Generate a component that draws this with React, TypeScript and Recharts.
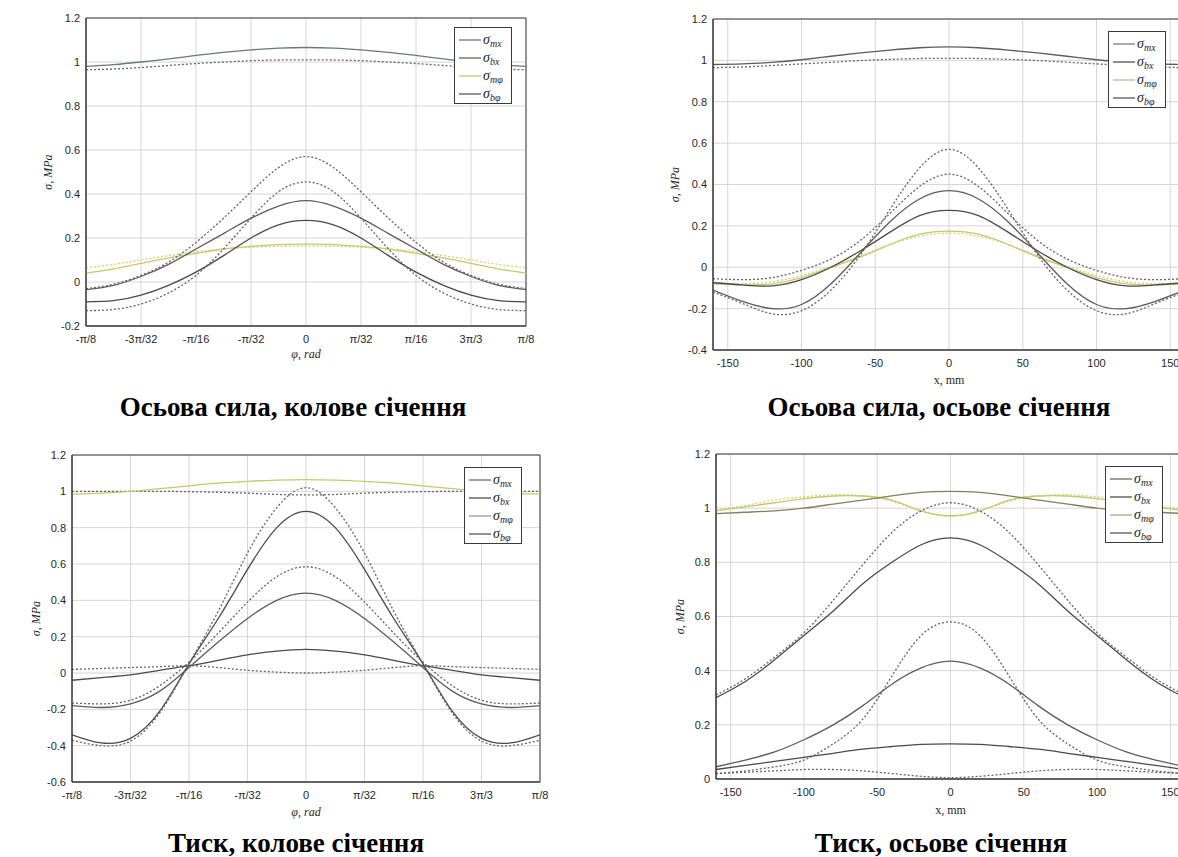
import React from 'react';
import { LineChart, Line, XAxis, YAxis, CartesianGrid, ReferenceArea, Legend, Label } from 'recharts';

// ---------- x categories ----------
const phiX = [-4, -3.5, -3, -2.5, -2, -1.5, -1, -0.5, 0, 0.5, 1, 1.5, 2, 2.5, 3, 3.5, 4]; // units of π/32
const phiTicks = [-4, -3, -2, -1, 0, 1, 2, 3, 4];
const phiTickLabels = ['-π/8', '-3π/32', '-π/16', '-π/32', '0', 'π/32', 'π/16', '3π/3', 'π/8'];
const mmX = [-160, -140, -120, -100, -80, -60, -40, -20, 0, 20, 40, 60, 80, 100, 120, 140, 160];
const mmTicks = [-150, -100, -50, 0, 50, 100, 150];

const yTicks1 = [-0.2, 0, 0.2, 0.4, 0.6, 0.8, 1, 1.2];
const yTicks2 = [-0.4, -0.2, 0, 0.2, 0.4, 0.6, 0.8, 1, 1.2];
const yTicks3 = [-0.6, -0.4, -0.2, 0, 0.2, 0.4, 0.6, 0.8, 1, 1.2];
const yTicks4 = [0, 0.2, 0.4, 0.6, 0.8, 1, 1.2];

const titles = ['Осьова сила, колове січення', 'Осьова сила, осьове січення', 'Тиск, колове січення', 'Тиск, осьове січення'];
const legendSubs = ['mx', 'bx', 'mφ', 'bφ'];

// ---------- panel 1: axial force, circumferential section ----------
const p1MxSolid = [0.98, 0.988, 1.0, 1.014, 1.03, 1.044, 1.055, 1.063, 1.066, 1.063, 1.055, 1.044, 1.03, 1.014, 1.0, 0.988, 0.98];
const p1MxDot = [0.965, 0.968, 0.975, 0.984, 0.993, 1.0, 1.006, 1.009, 1.01, 1.009, 1.006, 1.0, 0.993, 0.984, 0.975, 0.968, 0.965];
const p1BxSolid = [-0.035, -0.015, 0.025, 0.08, 0.15, 0.22, 0.29, 0.345, 0.37, 0.345, 0.29, 0.22, 0.15, 0.08, 0.025, -0.015, -0.035];
const p1BxDot = [-0.03, -0.01, 0.03, 0.09, 0.18, 0.29, 0.41, 0.52, 0.57, 0.52, 0.41, 0.29, 0.18, 0.09, 0.03, -0.01, -0.03];
const p1BphiSolid = [-0.09, -0.085, -0.06, -0.015, 0.045, 0.12, 0.2, 0.26, 0.28, 0.26, 0.2, 0.12, 0.045, -0.015, -0.06, -0.085, -0.09];
const p1BphiDot = [-0.13, -0.125, -0.1, -0.05, 0.03, 0.15, 0.29, 0.41, 0.455, 0.41, 0.29, 0.15, 0.03, -0.05, -0.1, -0.125, -0.13];
const p1MphiSolid = [0.04, 0.06, 0.085, 0.11, 0.13, 0.15, 0.162, 0.17, 0.172, 0.17, 0.162, 0.15, 0.13, 0.11, 0.085, 0.06, 0.04];
const p1MphiDot = [0.065, 0.08, 0.1, 0.12, 0.138, 0.15, 0.158, 0.162, 0.163, 0.162, 0.158, 0.15, 0.138, 0.12, 0.1, 0.08, 0.065];

// ---------- panel 2: axial force, axial section ----------
const p2MxSolid = [0.98, 0.983, 0.99, 1.003, 1.02, 1.036, 1.05, 1.061, 1.065, 1.061, 1.05, 1.036, 1.02, 1.003, 0.99, 0.983, 0.98];
const p2MxDot = [0.965, 0.968, 0.975, 0.983, 0.991, 0.999, 1.005, 1.009, 1.01, 1.009, 1.005, 0.999, 0.991, 0.983, 0.975, 0.968, 0.965];
const p2BxSolid = [-0.11, -0.165, -0.2, -0.18, -0.08, 0.07, 0.22, 0.33, 0.37, 0.33, 0.22, 0.07, -0.08, -0.18, -0.2, -0.165, -0.11];
const p2BxDot = [-0.12, -0.175, -0.225, -0.21, -0.11, 0.06, 0.28, 0.48, 0.57, 0.48, 0.28, 0.06, -0.11, -0.21, -0.225, -0.175, -0.12];
const p2BphiSolid = [-0.075, -0.085, -0.09, -0.06, 0.0, 0.08, 0.17, 0.25, 0.275, 0.25, 0.17, 0.08, 0.0, -0.06, -0.09, -0.085, -0.075];
const p2BphiDot = [-0.055, -0.06, -0.05, -0.015, 0.04, 0.13, 0.26, 0.39, 0.45, 0.39, 0.26, 0.13, 0.04, -0.015, -0.05, -0.06, -0.055];
const p2MphiSolid = [-0.08, -0.085, -0.08, -0.05, 0.0, 0.05, 0.11, 0.16, 0.175, 0.16, 0.11, 0.05, 0.0, -0.05, -0.08, -0.085, -0.08];
const p2MphiDot = [-0.075, -0.08, -0.07, -0.04, 0.005, 0.055, 0.11, 0.15, 0.165, 0.15, 0.11, 0.055, 0.005, -0.04, -0.07, -0.08, -0.075];

// ---------- panel 3: pressure, circumferential section ----------
const p3TopSolid = [0.985, 0.99, 1.0, 1.015, 1.03, 1.045, 1.055, 1.062, 1.065, 1.062, 1.055, 1.045, 1.03, 1.015, 1.0, 0.99, 0.985];
const p3TopDot = [1.0, 1.0, 1.0, 1.0, 0.998, 0.995, 0.99, 0.983, 0.98, 0.983, 0.99, 0.995, 0.998, 1.0, 1.0, 1.0, 1.0];
const p3BigSolid = [-0.34, -0.385, -0.36, -0.21, 0.05, 0.3, 0.57, 0.8, 0.89, 0.8, 0.57, 0.3, 0.05, -0.21, -0.36, -0.385, -0.34];
const p3BigDot = [-0.37, -0.4, -0.375, -0.22, 0.05, 0.34, 0.66, 0.91, 1.02, 0.91, 0.66, 0.34, 0.05, -0.22, -0.375, -0.4, -0.37];
const p3MedSolid = [-0.18, -0.19, -0.17, -0.1, 0.03, 0.17, 0.3, 0.4, 0.44, 0.4, 0.3, 0.17, 0.03, -0.1, -0.17, -0.19, -0.18];
const p3MedDot = [-0.165, -0.17, -0.15, -0.07, 0.06, 0.22, 0.39, 0.53, 0.585, 0.53, 0.39, 0.22, 0.06, -0.07, -0.15, -0.17, -0.165];
const p3SmallSolid = [-0.04, -0.025, -0.01, 0.015, 0.04, 0.07, 0.1, 0.12, 0.13, 0.12, 0.1, 0.07, 0.04, 0.015, -0.01, -0.025, -0.04];
const p3SmallDot = [0.02, 0.025, 0.03, 0.035, 0.04, 0.03, 0.015, 0.005, 0.0, 0.005, 0.015, 0.03, 0.04, 0.035, 0.03, 0.025, 0.02];

// ---------- panel 4: pressure, axial section ----------
const p4TopSolid = [0.98, 0.985, 0.99, 1.0, 1.015, 1.03, 1.045, 1.058, 1.062, 1.058, 1.045, 1.03, 1.015, 1.0, 0.99, 0.985, 0.98];
const p4YelSolid = [0.99, 1.005, 1.02, 1.035, 1.045, 1.045, 1.03, 0.99, 0.972, 0.99, 1.03, 1.045, 1.045, 1.035, 1.02, 1.005, 0.99];
const p4YelDot = [0.995, 1.01, 1.03, 1.042, 1.05, 1.045, 1.025, 0.99, 0.97, 0.99, 1.025, 1.045, 1.05, 1.042, 1.03, 1.01, 0.995];
const p4BigSolid = [0.3, 0.36, 0.44, 0.53, 0.62, 0.72, 0.8, 0.865, 0.89, 0.865, 0.8, 0.72, 0.62, 0.53, 0.44, 0.36, 0.3];
const p4BigDot = [0.31, 0.37, 0.45, 0.54, 0.66, 0.79, 0.91, 0.99, 1.02, 0.99, 0.91, 0.79, 0.66, 0.54, 0.45, 0.37, 0.31];
const p4MedSolid = [0.045, 0.07, 0.1, 0.145, 0.2, 0.27, 0.35, 0.41, 0.435, 0.41, 0.35, 0.27, 0.2, 0.145, 0.1, 0.07, 0.045];
const p4MedDot = [0.02, 0.03, 0.045, 0.07, 0.13, 0.22, 0.38, 0.53, 0.58, 0.53, 0.38, 0.22, 0.13, 0.07, 0.045, 0.03, 0.02];
const p4SmallSolid = [0.035, 0.05, 0.065, 0.08, 0.095, 0.11, 0.12, 0.128, 0.13, 0.128, 0.12, 0.11, 0.095, 0.08, 0.065, 0.05, 0.035];
const p4SmallDot = [0.02, 0.025, 0.03, 0.035, 0.035, 0.03, 0.02, 0.01, 0.005, 0.01, 0.02, 0.03, 0.035, 0.035, 0.03, 0.025, 0.02];

// ---------- styling ----------
const GRAY = '#5c5c5c';
const DARK = '#4a4a4a';
const DOT = '#646464';
const YEL = '#c4c968';
const YELD = '#cdd07a';
const BLUEGRAY = '#687880';
const OLIVE = '#7b835c';

type S = { key: string; values: number[]; color: string; dashed?: boolean };

const series1: S[] = [
  { key: 'mxS', values: p1MxSolid, color: BLUEGRAY },
  { key: 'mxD', values: p1MxDot, color: DOT, dashed: true },
  { key: 'mphiS', values: p1MphiSolid, color: YEL },
  { key: 'mphiD', values: p1MphiDot, color: YELD, dashed: true },
  { key: 'bxS', values: p1BxSolid, color: GRAY },
  { key: 'bxD', values: p1BxDot, color: DOT, dashed: true },
  { key: 'bphiS', values: p1BphiSolid, color: DARK },
  { key: 'bphiD', values: p1BphiDot, color: DOT, dashed: true },
];
const series2: S[] = [
  { key: 'mxS', values: p2MxSolid, color: GRAY },
  { key: 'mxD', values: p2MxDot, color: DOT, dashed: true },
  { key: 'mphiS', values: p2MphiSolid, color: YEL },
  { key: 'mphiD', values: p2MphiDot, color: YELD, dashed: true },
  { key: 'bphiS', values: p2BphiSolid, color: DARK },
  { key: 'bphiD', values: p2BphiDot, color: DOT, dashed: true },
  { key: 'bxS', values: p2BxSolid, color: GRAY },
  { key: 'bxD', values: p2BxDot, color: DOT, dashed: true },
];
const series3: S[] = [
  { key: 'topD', values: p3TopDot, color: DOT, dashed: true },
  { key: 'topS', values: p3TopSolid, color: YEL },
  { key: 'smallS', values: p3SmallSolid, color: DARK },
  { key: 'smallD', values: p3SmallDot, color: DOT, dashed: true },
  { key: 'medS', values: p3MedSolid, color: GRAY },
  { key: 'medD', values: p3MedDot, color: DOT, dashed: true },
  { key: 'bigS', values: p3BigSolid, color: DARK },
  { key: 'bigD', values: p3BigDot, color: DOT, dashed: true },
];
const series4: S[] = [
  { key: 'yelD', values: p4YelDot, color: YELD, dashed: true },
  { key: 'yelS', values: p4YelSolid, color: YEL },
  { key: 'topS', values: p4TopSolid, color: OLIVE },
  { key: 'smallS', values: p4SmallSolid, color: DARK },
  { key: 'smallD', values: p4SmallDot, color: DOT, dashed: true },
  { key: 'medS', values: p4MedSolid, color: GRAY },
  { key: 'medD', values: p4MedDot, color: DOT, dashed: true },
  { key: 'bigS', values: p4BigSolid, color: DARK },
  { key: 'bigD', values: p4BigDot, color: DOT, dashed: true },
];

const legendColors1 = [BLUEGRAY, '#5f6a56', YEL, '#4e5864'];
const legendColors2 = ['#7a7a7a', '#505050', '#b8b8a0', '#555555'];
const legendColors3 = ['#6a6a6a', '#505050', '#9a9a8a', '#555555'];
const legendColors4 = ['#6a6a6a', '#505050', '#a8ab80', '#555555'];

const TICK_FONT = { fill: '#262626', fontSize: 11, fontFamily: '"Liberation Sans", Arial, sans-serif' };

const LegendBox = ({ colors }: { colors: string[] }) => (
  <div
    style={{
      width: 58,
      height: 77,
      boxSizing: 'border-box',
      border: '1px solid #3a3a3a',
      background: '#ffffff',
      padding: '3px 0 0 4px',
      fontFamily: '"Liberation Serif", "DejaVu Serif", serif',
      fontStyle: 'italic',
      fontSize: 14,
      color: '#262626',
    }}
  >
    {legendSubs.map((sub, i) => (
      <div key={sub} style={{ display: 'flex', alignItems: 'center', height: 18, whiteSpace: 'nowrap' }}>
        <svg width={22} height={10} style={{ flex: 'none' }}>
          <line x1={0} y1={5} x2={22} y2={5} stroke={colors[i]} strokeWidth={1.3} />
        </svg>
        <span style={{ marginLeft: 2, lineHeight: '14px' }}>
          σ<span style={{ fontSize: 10, position: 'relative', top: 3 }}>{sub}</span>
        </span>
      </div>
    ))}
  </div>
);

type PanelProps = {
  left: number; top: number; width: number; height: number;
  margin: { top: number; right: number; bottom: number; left: number };
  xAxisHeight: number; xs: number[]; xDomain: [number, number]; xTicks: number[];
  xFormat: (v: number) => string; xLabel: string; xLabelItalic: boolean;
  yDomain: [number, number]; yTicks: number[]; yLabelOffset: number;
  series: S[]; legendColors: string[]; legendLeft: number; legendTop: number;
};

const Panel = (p: PanelProps) => {
  const data = p.xs.map((x, i) => {
    const row: Record<string, number> = { x };
    p.series.forEach((s) => { row[s.key] = s.values[i]; });
    return row;
  });
  return (
    <div style={{ position: 'absolute', left: p.left, top: p.top }}>
      <LineChart width={p.width} height={p.height} data={data} margin={p.margin}>
        <CartesianGrid stroke="#d6d6d6" strokeWidth={1} />
        <XAxis
          dataKey="x" type="number" domain={p.xDomain} ticks={p.xTicks} interval={0}
          tickFormatter={p.xFormat} allowDataOverflow height={p.xAxisHeight}
          tickLine={false} tickSize={4} tickMargin={5} axisLine={{ stroke: '#333' }} tick={TICK_FONT}
        >
          <Label
            value={p.xLabel} position="insideBottom" offset={0}
            style={{ fontFamily: '"Liberation Serif", serif', fontStyle: p.xLabelItalic ? 'italic' : 'normal', fontSize: 12, fill: '#262626' }}
          />
        </XAxis>
        <YAxis
          type="number" domain={p.yDomain} ticks={p.yTicks} interval={0} allowDataOverflow width={40}
          tickFormatter={(v: number) => String(Math.round(v * 10) / 10)}
          tickLine={false} tickSize={4} tickMargin={2} axisLine={{ stroke: '#333' }} tick={TICK_FONT}
        >
          <Label
            value="σ, MPa" angle={-90} position="insideLeft" offset={p.yLabelOffset}
            style={{ textAnchor: 'middle', fontFamily: '"Liberation Serif", serif', fontStyle: 'italic', fontSize: 12, fill: '#262626' }}
          />
        </YAxis>
        <ReferenceArea x1={p.xDomain[0]} x2={p.xDomain[1]} y1={p.yDomain[0]} y2={p.yDomain[1]} fill="none" fillOpacity={0} stroke="#3a3a3a" strokeWidth={1} />
        {p.series.map((s) => (
          <Line
            key={s.key} dataKey={s.key} type="natural" stroke={s.color} strokeWidth={1.3}
            strokeDasharray={s.dashed ? '2 2' : undefined} dot={false} activeDot={false}
            isAnimationActive={false} legendType="none"
          />
        ))}
        <Legend
          layout="horizontal" verticalAlign="middle" align="center"
          wrapperStyle={{ left: p.legendLeft - p.left, top: p.legendTop - p.top, width: 'auto', height: 'auto' }}
          content={() => <LegendBox colors={p.legendColors} />}
        />
      </LineChart>
    </div>
  );
};

const phiFormat = (v: number) => phiTickLabels[phiTicks.indexOf(v)] ?? '';
const mmFormat = (v: number) => String(v);

export default function App() {
  return (
    <div style={{ position: 'absolute', left: 0, top: 0, width: 1178, height: 857, overflow: 'hidden', background: '#ffffff' }}>
      <Panel
        left={0} top={0} width={560} height={365}
        margin={{ top: 18, right: 34, bottom: 7, left: 46 }} xAxisHeight={32}
        xs={phiX} xDomain={[-4, 4]} xTicks={phiTicks} xFormat={phiFormat} xLabel="φ, rad" xLabelItalic
        yDomain={[-0.2, 1.2]} yTicks={yTicks1} yLabelOffset={2}
        series={series1} legendColors={legendColors1} legendLeft={454} legendTop={27}
      />
      <Panel
        left={660} top={0} width={560} height={395}
        margin={{ top: 19, right: 35, bottom: 11, left: 13 }} xAxisHeight={34}
        xs={mmX} xDomain={[-160, 160]} xTicks={mmTicks} xFormat={mmFormat} xLabel="x, mm" xLabelItalic={false}
        yDomain={[-0.4, 1.2]} yTicks={yTicks2} yLabelOffset={2}
        series={series2} legendColors={legendColors2} legendLeft={1108} legendTop={31}
      />
      <Panel
        left={0} top={430} width={580} height={395}
        margin={{ top: 25, right: 40, bottom: 9, left: 32 }} xAxisHeight={34}
        xs={phiX} xDomain={[-4, 4]} xTicks={phiTicks} xFormat={phiFormat} xLabel="φ, rad" xLabelItalic
        yDomain={[-0.6, 1.2]} yTicks={yTicks3} yLabelOffset={4}
        series={series3} legendColors={legendColors3} legendLeft={464} legendTop={467}
      />
      <Panel
        left={660} top={430} width={560} height={395}
        margin={{ top: 24, right: 35, bottom: 11, left: 16 }} xAxisHeight={35}
        xs={mmX} xDomain={[-160, 160]} xTicks={mmTicks} xFormat={mmFormat} xLabel="x, mm" xLabelItalic={false}
        yDomain={[0, 1.2]} yTicks={yTicks4} yLabelOffset={4}
        series={series4} legendColors={legendColors4} legendLeft={1105} legendTop={466}
      />
      <svg width={1178} height={857} style={{ position: 'absolute', left: 0, top: 0, pointerEvents: 'none' }}>
        <g style={{ fontFamily: '"Liberation Serif", "Times New Roman", serif', fontWeight: 'bold', fontSize: 27 }} fill="#000">
          <text x={293} y={416} textAnchor="middle">{titles[0]}</text>
          <text x={939} y={416} textAnchor="middle">{titles[1]}</text>
          <text x={296} y={852} textAnchor="middle">{titles[2]}</text>
          <text x={941} y={852} textAnchor="middle">{titles[3]}</text>
        </g>
      </svg>
    </div>
  );
}
